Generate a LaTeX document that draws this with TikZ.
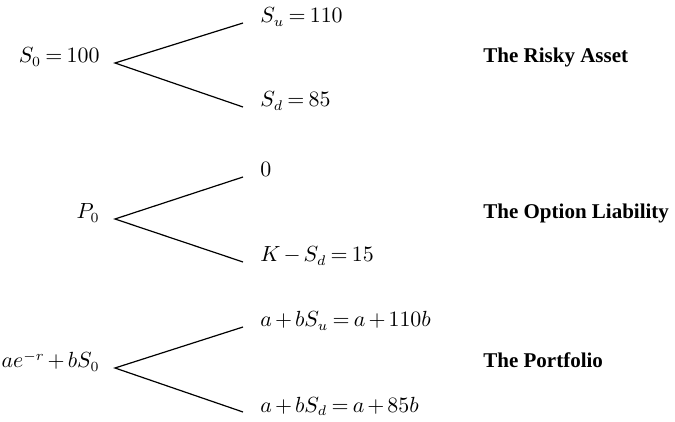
\documentclass[tikz,border=0pt]{standalone}
\usepackage{amsmath}
\usepackage{fontspec}
\setmainfont{Liberation Serif}
\usepackage{tikz}
\usetikzlibrary{positioning}
\thickmuskip=3.5mu
\medmuskip=2.5mu

\begin{document}
\begin{tikzpicture}[
    x=0.5pt, y=-0.5pt,
    every node/.style={font=\fontsize{10.5}{12}\selectfont},
    root/.style={anchor=base east, inner xsep=7.5pt, inner ysep=0pt},
    leaf/.style={anchor=base west, inner xsep=8.5pt, inner ysep=0pt},
    title/.style={anchor=base west, inner sep=0pt, font=\fontsize{10.5}{12}\selectfont\bfseries},
    branch/.style={line width=0.6pt},
]
    \useasboundingbox (0,0) rectangle (675,422);

    % Risky asset
    \node[root] (s0) at (115, 63) {$S_0 = 100$};
    \node[leaf] (su) at (243, 23) {$S_u = 110$};
    \node[leaf] (sd) at (243, 107) {$S_d = 85$};
    \node[title] (asset) at (483, 63) {The Risky Asset};

    % Option liability
    \node[root] (p0) at (115, 219) {$P_0$};
    \node[leaf] (pu) at (243, 177) {$0$};
    \node[leaf] (pd) at (243, 262) {$K - S_d = 15$};
    \node[title] (option) at (483, 219) {The Option Liability};

    % Portfolio
    \node[root] (v0) at (115, 368) {$ae^{-r} + bS_0$};
    \node[leaf] (vu) at (243, 327) {$a + bS_u = a + 110b$};
    \node[leaf] (vd) at (243, 412) {$a + bS_d = a + 85b$};
    \node[title] (portfolio) at (483, 368) {The Portfolio};

    % Branches
    \draw[branch] (su.base west) -- (s0.base east) -- (sd.base west);
    \draw[branch] (pu.base west) -- (p0.base east) -- (pd.base west);
    \draw[branch] (vu.base west) -- (v0.base east) -- (vd.base west);
\end{tikzpicture}
\end{document}
